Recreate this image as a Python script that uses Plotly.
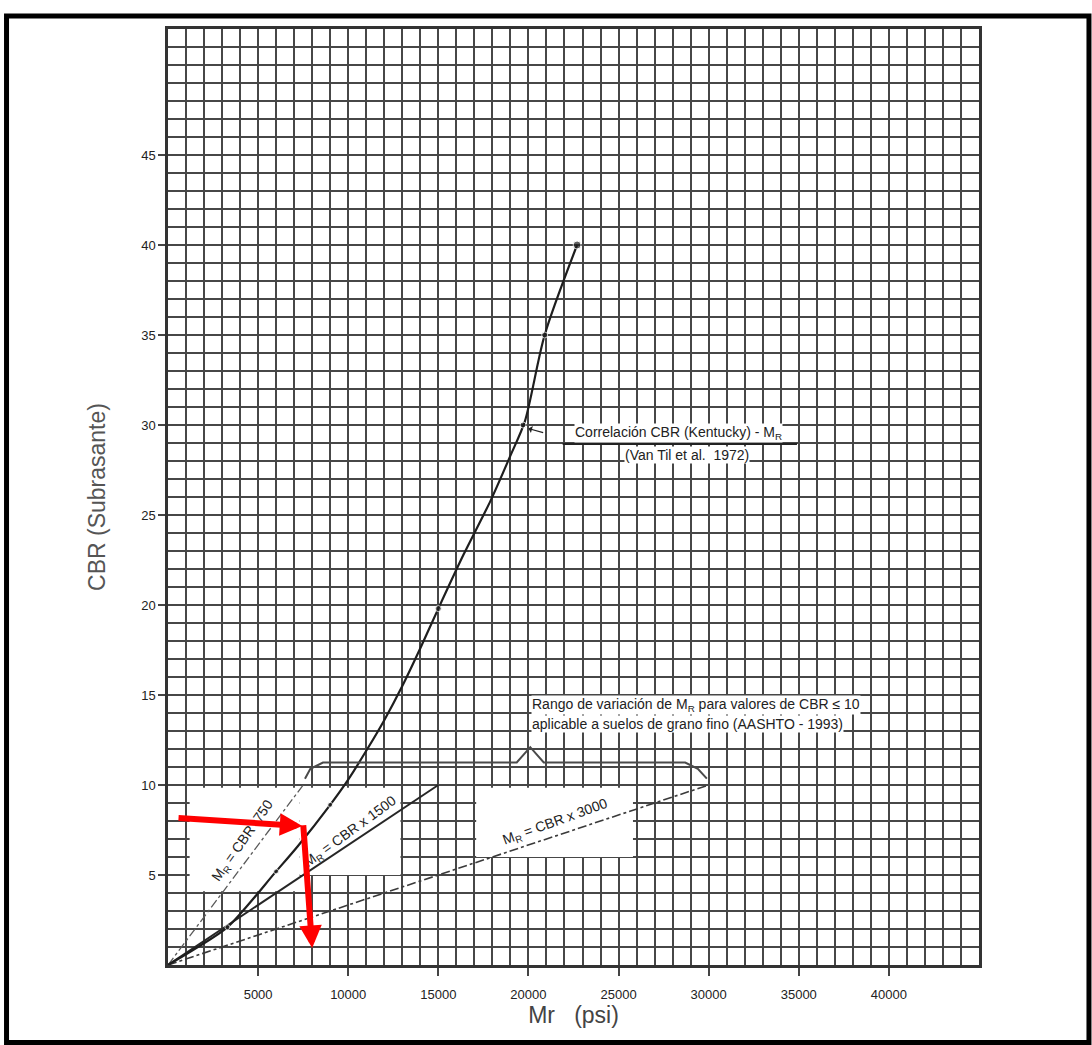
import plotly.graph_objects as go

# --- data -------------------------------------------------------------------
# Correlation CBR (Kentucky) - Mr curve (Van Til et al. 1972)
curve_mr = [0, 1500, 3300, 6000, 7200, 9000, 10000, 11000, 12000, 13000,
            14000, 15000, 16400, 17900, 19000, 19800, 20900, 22700]
curve_cbr = [0, 0.9, 2.1, 5.2, 6.6, 8.9, 10.3, 11.9, 13.6, 15.5,
             17.6, 19.8, 22.8, 25.8, 28.3, 30.2, 35.0, 40.0]

# plotted points along the correlation curve
point_mr = [3300, 6000, 9000, 15000, 19700, 20900, 22700]
point_cbr = [2.1, 5.2, 8.9, 19.8, 30.0, 35.0, 40.0]

# AASHTO straight-line relations (CBR <= 10)
line_cbr = [0, 10]
line_750_mr = [0, 7500]
line_1500_mr = [0, 15000]
line_3000_mr = [0, 30000]

# brace spanning the AASHTO range
brace_mr = [7600, 7900, 8600, 19350, 20100, 20850, 28700, 29400, 29900]
brace_cbr = [10.35, 10.9, 11.25, 11.25, 12.1, 11.25, 11.25, 10.9, 10.35]

x_ticks = [5000, 10000, 15000, 20000, 25000, 30000, 35000, 40000]
y_ticks = [5, 10, 15, 20, 25, 30, 35, 40, 45]

FONT = "Liberation Sans, Arial, sans-serif"
GRID = "#474747"

fig = go.Figure()

fig.add_trace(go.Scatter(x=line_750_mr, y=line_cbr, mode="lines",
                         line=dict(color="#5a5a5a", width=1.3, dash="dashdot"),
                         hoverinfo="skip"))
fig.add_trace(go.Scatter(x=line_1500_mr, y=line_cbr, mode="lines",
                         line=dict(color="#262626", width=2),
                         hoverinfo="skip"))
fig.add_trace(go.Scatter(x=line_3000_mr, y=line_cbr, mode="lines",
                         line=dict(color="#3a3a3a", width=1.6, dash="dashdot"),
                         hoverinfo="skip"))
fig.add_trace(go.Scatter(x=curve_mr, y=curve_cbr, mode="lines",
                         line=dict(color="#1e1e1e", width=2.2, shape="spline",
                                   smoothing=0.8),
                         hoverinfo="skip"))
fig.add_trace(go.Scatter(x=point_mr, y=point_cbr, mode="markers",
                         marker=dict(color="#1e1e1e", size=[5, 5, 5, 6, 6, 6, 8]),
                         hoverinfo="skip"))
fig.add_trace(go.Scatter(x=brace_mr, y=brace_cbr, mode="lines",
                         line=dict(color="#4a4a4a", width=2),
                         hoverinfo="skip"))

# white label panels over the grid
panels = [(1200, 7300, 4.1, 9.85), (7300, 12900, 5.0, 9.85),
          (17100, 25800, 6.0, 9.85)]
for x0, x1, y0, y1 in panels:
    fig.add_shape(type="rect", xref="x", yref="y", x0=x0, x1=x1, y0=y0, y1=y1,
                  fillcolor="white", line=dict(width=0), layer="between")

# leader line under the correlation label
fig.add_shape(type="line", xref="x", yref="y", x0=21900, x1=34900, y0=28.95,
              y1=28.95, line=dict(color="#222", width=2), layer="above")

# outer frame
fig.add_shape(type="rect", xref="paper", yref="paper",
              x0=-0.1991, x1=1.1356, y0=-0.0828, y1=1.0139,
              line=dict(color="black", width=5), layer="above")

ann = [
    dict(x=28300, y=29.55, text="Correlación CBR (Kentucky) - M<sub>R</sub>",
         font=dict(size=14), bgcolor="white"),
    dict(x=28800, y=28.35, text="(Van Til et al.  1972)", font=dict(size=14),
         bgcolor="white"),
    dict(x=20150, y=14.45, xanchor="left",
         text="Rango de variación de M<sub>R</sub> para valores de CBR ≤ 10",
         font=dict(size=14), bgcolor="white"),
    dict(x=20150, y=13.4, xanchor="left",
         text="aplicable a suelos de grano fino (AASHTO - 1993)",
         font=dict(size=14), bgcolor="white"),
    dict(x=4150, y=6.9, text="M<sub>R</sub> = CBR  750", textangle=-55,
         font=dict(size=14)),
    dict(x=10100, y=7.4, text="M<sub>R</sub> = CBR x 1500", textangle=-36,
         font=dict(size=14)),
    dict(x=21500, y=7.95, text="M<sub>R</sub> = CBR x 3000", textangle=-20,
         font=dict(size=14)),
]
for a in ann:
    a.update(xref="x", yref="y", showarrow=False, borderpad=0)
    a["font"].update(family=FONT, color="#222")
    fig.add_annotation(**a)

# small pointer from the label to the curve
fig.add_annotation(x=20000, y=29.8, ax=20900, ay=29.55, xref="x", yref="y",
                   axref="x", ayref="y", text="", showarrow=True,
                   arrowhead=1, arrowsize=1, arrowwidth=1.2, arrowcolor="#222")

# red reading arrows
RED = "#ff0000"
fig.add_annotation(x=7450, y=7.72, ax=500, ay=8.17, xref="x", yref="y",
                   axref="x", ayref="y", text="", showarrow=True,
                   arrowhead=2, arrowsize=0.75, arrowwidth=6, arrowcolor=RED)
fig.add_annotation(x=8000, y=0.95, ax=7500, ay=7.85, xref="x", yref="y",
                   axref="x", ayref="y", text="", showarrow=True,
                   arrowhead=2, arrowsize=0.75, arrowwidth=6, arrowcolor=RED)

fig.update_xaxes(range=[0, 45000], tickvals=x_ticks,
                 ticktext=[str(v) for v in x_ticks],
                 showgrid=True, gridcolor=GRID, gridwidth=2,
                 minor=dict(dtick=1000, tick0=0, showgrid=True,
                            gridcolor=GRID, gridwidth=2),
                 showline=True, linecolor="#333", linewidth=2.5, mirror=True,
                 ticks="outside", ticklen=8, tickwidth=2, tickcolor="#444",
                 ticklabelstandoff=8,
                 tickfont=dict(family=FONT, size=13, color="#222"),
                 title=dict(text="Mr   (psi)", standoff=6,
                            font=dict(family=FONT, size=23, color="#444")),
                 zeroline=False)
fig.update_yaxes(range=[0, 52], tickvals=y_ticks,
                 ticktext=[str(v) for v in y_ticks],
                 showgrid=True, gridcolor=GRID, gridwidth=2,
                 minor=dict(dtick=1, tick0=0, showgrid=True,
                            gridcolor=GRID, gridwidth=2),
                 showline=True, linecolor="#333", linewidth=2.5, mirror=True,
                 ticks="outside", ticklen=7, tickwidth=2, tickcolor="#444",
                 tickfont=dict(family=FONT, size=13, color="#222"),
                 title=dict(text="CBR (Subrasante)", standoff=30,
                            font=dict(family=FONT, size=23, color="#555")),
                 zeroline=False)

fig.update_layout(width=1092, height=1045,
                  margin=dict(l=168, r=113, t=29, b=80),
                  paper_bgcolor="white", plot_bgcolor="white",
                  showlegend=False)

fig.write_html("out.html")
